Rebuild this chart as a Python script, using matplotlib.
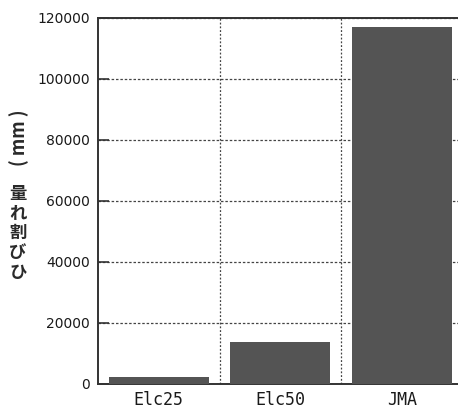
import matplotlib
matplotlib.use("Agg")
import matplotlib.pyplot as plt

plt.rcParams['font.family'] = ['Noto Sans CJK JP', 'DejaVu Sans']

categories = ["Elc25", "Elc50", "JMA"]
crack_amount = [2200, 13900, 117000]
yticks = [0, 20000, 40000, 60000, 80000, 100000, 120000]

fig = plt.figure(figsize=(4.58, 4.15), dpi=100)
ax = fig.add_axes([0.214, 0.0747, 0.796, 0.882])

x = range(len(categories))
ax.bar(x, crack_amount, width=0.82, color="#545454", zorder=3)

ax.set_xlim(-0.5, len(categories) - 0.5)
ax.set_ylim(0, 120000)
ax.set_yticks(yticks)
ax.set_yticklabels([str(v) for v in yticks], fontsize=10, family="DejaVu Sans", color="#1a1a1a")
ax.set_xticks(list(x))
ax.set_xticklabels(categories, fontsize=12, family="DejaVu Sans Mono", color="#1a1a1a")
ax.set_xticks([i + 0.5 for i in range(len(categories) - 1)], minor=True)

ax.tick_params(axis="x", which="both", length=0, pad=5)
ax.tick_params(axis="y", direction="in", length=8, width=1.2, color="#333333", pad=6)
ax.grid(axis="y", which="major", linestyle=(0, (2, 1.5)), color="#444444", linewidth=0.9, zorder=1)
ax.grid(axis="x", which="minor", linestyle=(0, (1.5, 1.5)), color="#444444", linewidth=0.9, zorder=1)

for s in ax.spines.values():
    s.set_color("#333333")
    s.set_linewidth(1.4)

# y label: upright kana/kanji stacked bottom-to-top, unit rotated
fig.text(0.039, 0.438, "量\nれ\n割\nび\nひ", ha="center", va="center",
         fontsize=12.5, linespacing=1.12, color="#2a2a2a", fontweight="bold")
fig.text(0.041, 0.667, "( mm )", ha="center", va="center", rotation=90,
         rotation_mode="anchor", fontsize=13, color="#2a2a2a", fontweight="bold")

fig.savefig("out.png", dpi=100)
